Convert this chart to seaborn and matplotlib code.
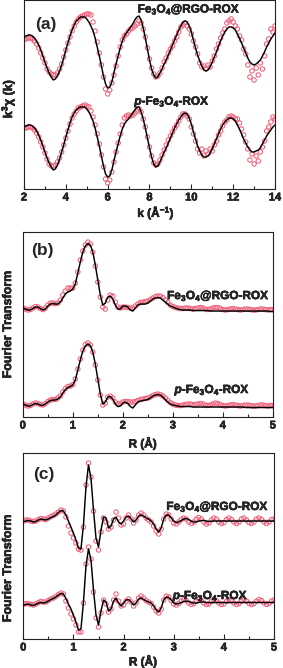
import numpy as np
import pandas as pd
import matplotlib
matplotlib.use('Agg')
import matplotlib.pyplot as plt
import matplotlib.patheffects as pe
import seaborn as sns
from matplotlib.ticker import MultipleLocator

sns.set_style('ticks')
plt.rcParams['font.family'] = ['Liberation Sans', 'DejaVu Sans']
plt.rcParams['font.weight'] = 'bold'
plt.rcParams['mathtext.fontset'] = 'custom'
plt.rcParams['mathtext.bfit'] = 'Liberation Sans:italic:bold'
plt.rcParams['mathtext.default'] = 'regular'

PINK = '#f0607a'
RGO = 'Fe$_3$O$_4$@RGO-ROX'
PFE = r'$\mathbfit{p}$-Fe$_3$O$_4$-ROX'
HEAVY = [pe.withStroke(linewidth=0.4, foreground='black')]

# ---- (a) k-space, k = 2 ... 14 step 0.1 (arbitrary units) ----
k = np.linspace(2, 14, 121)
rgo_fit_a = [152, 153, 154, 154, 153, 151, 148, 144, 139, 133,
             127, 121, 116, 112, 109, 110, 113, 118, 124, 131,
             139, 146, 153, 159, 164, 168, 170, 172, 172, 172,
             170, 167, 163, 158, 151, 142, 133, 123, 113, 105,
             101, 102, 107, 116, 125, 133, 141, 148, 153, 156,
             159, 162, 165, 169, 172, 173, 169, 161, 151, 140,
             129, 120, 114, 111, 112, 116, 120, 125, 129, 134,
             139, 144, 149, 154, 159, 163, 167, 168, 167, 163,
             157, 149, 141, 134, 128, 123, 119, 118, 119, 122,
             127, 132, 137, 143, 148, 153, 157, 160, 162, 162,
             161, 159, 155, 151, 146, 141, 136, 131, 127, 125,
             124, 125, 127, 129, 133, 137, 142, 146, 150, 153,
             156]
rgo_dat_a = [150, 150, 151, 151, 150, 148, 145, 141, 136, 131,
             126, 120, 117, 115, 114, 114, 116, 120, 125, 132,
             139, 146, 152, 158, 163, 167, 170, 172, 173, 174,
             175, 175, 174, 167, 158, 147, 136, 124, 112, 100,
             95, 99, 106, 114, 123, 133, 142, 149, 153, 155,
             158, 160, 161, 163, 165, 168, 166, 160, 152, 141,
             130, 121, 115, 112, 113, 116, 121, 127, 131, 136,
             140, 143, 148, 152, 157, 162, 164, 166, 163, 160,
             155, 148, 142, 135, 126, 122, 123, 120, 124, 122,
             128, 133, 140, 145, 151, 156, 160, 166, 168, 170,
             167, 163, 160, 153, 149, 140, 135, 124, 112, 118,
             109, 121, 114, 126, 120, 133, 145, 150, 160, 157,
             163]
pfe_fit_a = [62, 63, 64, 64, 63, 61, 58, 54, 49, 43,
             37, 31, 26, 22, 19, 20, 24, 30, 37, 44,
             52, 59, 66, 72, 76, 79, 81, 82, 82, 82,
             80, 77, 73, 68, 61, 52, 43, 33, 23, 15,
             12, 13, 19, 28, 37, 45, 53, 60, 65, 68,
             70, 73, 76, 79, 82, 82, 77, 70, 61, 51,
             41, 32, 25, 22, 23, 27, 32, 37, 41, 46,
             51, 56, 61, 65, 69, 72, 75, 76, 75, 71,
             65, 57, 50, 43, 38, 34, 32, 32, 33, 36,
             40, 45, 50, 55, 60, 64, 67, 69, 71, 71,
             70, 68, 64, 60, 55, 50, 46, 42, 39, 37,
             37, 38, 39, 41, 45, 49, 53, 56, 59, 62,
             64]
pfe_dat_a = [61, 61, 62, 62, 61, 59, 56, 52, 47, 42,
             36, 30, 25, 23, 23, 24, 27, 31, 37, 44,
             51, 58, 65, 71, 75, 78, 81, 82, 83, 84,
             83, 82, 78, 72, 64, 55, 45, 34, 22, 10,
             6, 9, 17, 27, 37, 46, 55, 64, 71, 73,
             74, 73, 74, 76, 78, 80, 77, 70, 62, 52,
             42, 33, 26, 24, 25, 29, 34, 39, 44, 49,
             53, 57, 61, 64, 68, 72, 75, 75, 73, 70,
             62, 55, 48, 40, 36, 40, 33, 38, 35, 40,
             38, 44, 48, 54, 58, 63, 67, 69, 72, 73,
             72, 70, 70, 66, 60, 54, 47, 40, 29, 35,
             25, 33, 28, 37, 42, 48, 58, 62, 67, 72,
             70]

# ---- (b) FT magnitude, R = 0 ... 5 step 0.05 ----
r = np.linspace(0, 5, 101)
rgo_fit_b = [109, 108, 107, 107, 108.5, 110, 110, 108.5, 107, 108,
             111, 113, 113.5, 113, 113, 115, 119, 123, 125, 126,
             128, 133, 144, 155, 165, 171, 173.5, 172, 165, 152,
             137, 122, 112, 114, 120, 121, 118, 112, 108, 108,
             111, 111, 110, 107, 106, 109, 112, 113, 113, 113,
             114, 116, 118, 119, 119.5, 119, 117, 115, 113, 111,
             110, 109, 108, 107.5, 107, 107, 107, 107, 106.5, 106.5,
             106.5, 106.5, 106.5, 106.5, 106.5, 106, 106, 106, 106, 106,
             106, 106, 106, 106, 106, 106, 106, 106, 106, 106,
             106, 106, 106, 106, 106, 106, 106, 106, 106, 105.5,
             105.5]
rgo_dat_b = [109, 108, 107, 107.5, 109, 110.5, 110, 108.5, 107.5, 109,
             112, 114, 114, 113.5, 114, 117, 122, 126, 129, 129,
             129, 134, 145, 157, 166, 172, 175, 173, 165, 151,
             135, 120, 110, 108, 117, 122, 121, 115, 110, 109,
             110, 110, 109.5, 109, 109, 111, 113, 114.5, 115, 115.5,
             116, 117.5, 119, 120.5, 121, 121, 119.5, 117, 114.5, 112,
             110.5, 109.5, 109, 108.5, 108.5, 109, 109, 108.5, 108, 108.5,
             109, 109.5, 109, 108, 107.5, 108, 109, 109.5, 109.5, 108.5,
             107.5, 107, 107.5, 108, 108.5, 108, 107.5, 107, 107.5, 108,
             108, 107.5, 107, 107, 107.5, 108, 108, 107.5, 107, 107.5,
             107.5]
pfe_fit_b = [13, 12, 11, 11, 12.5, 13.5, 13, 12, 11.5, 13,
             15, 16.5, 17, 17, 18, 20, 24, 27.5, 29.5, 30.5,
             32, 37, 47, 57, 66, 71, 73, 71.5, 65, 53,
             38, 23, 13, 15, 20, 20.5, 18, 13, 10.5, 11,
             14, 15, 13.5, 10.5, 9, 12, 15, 16, 16.5, 17,
             17.5, 19, 21, 22, 22.5, 22, 20, 17.5, 15, 13,
             12, 11.5, 11, 10.5, 10.5, 10.5, 10.5, 10.5, 10, 10,
             10, 10, 10, 10, 10, 10, 10, 10, 10, 10,
             10, 10, 10, 10, 10, 10, 10, 10, 10, 9.5,
             9.5, 9.5, 9.5, 9.5, 9.5, 9.5, 9.5, 9.5, 9.5, 9.5,
             9.5]
pfe_dat_b = [13, 12, 11, 11.5, 13, 14, 13.5, 12.5, 12, 13.5,
             15.5, 17, 17.5, 17.5, 19, 21, 25, 28.5, 30.5, 31,
             32.5, 38, 48, 58, 67, 72.5, 74, 72, 65, 52,
             37, 22, 12, 14, 20, 21, 19, 15, 13, 13.5,
             15, 15.5, 15.5, 15, 15, 15.5, 16.5, 17.5, 18, 18.5,
             19, 20, 21.5, 22.5, 23, 22.5, 21, 19, 16.5, 14.5,
             13, 12, 11.5, 11.5, 12, 12.5, 13, 13, 12.5, 12.5,
             13, 13.5, 13, 12, 11.5, 12, 13, 14, 13.5, 12.5,
             11.5, 11, 11.5, 12, 12.5, 12, 11.5, 11, 11.5, 12,
             12, 11.5, 11, 11, 11.5, 12, 12, 11.5, 11, 11.5,
             11.5]

# ---- (c) FT imaginary part, R = 0 ... 5 step 0.05 ----
rgo_fit_c = [117.5, 118, 118.5, 118, 117, 117.5, 119, 120, 119.5, 119,
             120, 121.5, 122.5, 124, 126.5, 128.5, 128, 124, 118, 112,
             106, 99, 91, 90, 114, 152, 174, 161, 129, 101,
             92, 109, 122, 121, 111, 113, 120, 122, 117, 115,
             118, 122, 123, 120, 117, 119, 123, 124, 123, 121,
             120, 118, 115, 110, 107, 111, 120, 124, 124, 121,
             118, 116.5, 117, 118.5, 120, 120.5, 119.5, 118, 117, 117,
             118, 118.5, 118.5, 118, 117.5, 118, 118, 118, 118, 118,
             118, 118, 118, 118, 118, 118, 118, 118, 118, 118,
             118, 118, 118, 118, 118, 118, 118, 118, 118, 118,
             118]
rgo_dat_c = [118, 119, 119, 118, 117.5, 118, 119.5, 120.5, 120, 119.5,
             121, 122.5, 123.5, 125, 127, 129, 128, 122, 113, 106,
             101, 96, 90, 89, 112, 154, 176, 162, 128, 98,
             89, 107, 121, 117, 110, 112, 119, 127, 121, 114,
             115, 121, 124, 120, 116, 119, 124, 126, 124, 121,
             119, 117, 113, 108, 105, 110, 120, 125, 124, 120,
             116, 115, 117, 119.5, 121, 120, 117, 115.5, 117, 120,
             121.5, 120, 117, 115, 116, 119, 121, 120, 117, 115.5,
             116.5, 119.5, 121, 119.5, 117, 115.5, 117, 120, 121, 119,
             116.5, 115.5, 117, 120, 121, 119.5, 117, 115.5, 117, 119.5,
             120]
pfe_fit_c = [34, 34.5, 35, 34, 33.5, 34.5, 36, 36.5, 36, 36.5,
             38, 39.5, 40.5, 42, 44, 45.5, 45, 40.5, 35, 30,
             24, 17, 9, 10, 37, 73, 90, 79, 49, 24,
             14, 28, 39, 37, 28, 30, 38, 41, 36, 33,
             36, 39, 39.5, 37, 34, 36, 40, 41, 39.5, 38,
             37, 36, 33, 29, 27, 31, 39, 42, 41.5, 39,
             36, 35, 35.5, 36.5, 37.5, 38, 37.5, 36.5, 36, 36,
             36.5, 37, 37, 36.5, 36.5, 36.5, 36.5, 36.5, 36.5, 36.5,
             36.5, 36.5, 36.5, 36.5, 36.5, 36.5, 36.5, 36.5, 36.5, 36.5,
             36.5, 36.5, 36.5, 36.5, 36.5, 36.5, 36.5, 36.5, 36.5, 36.5,
             36.5]
pfe_dat_c = [34.5, 35.5, 35.5, 34.5, 34, 35, 36.5, 37.5, 37, 37,
             38.5, 40, 41, 42.5, 44.5, 46, 45, 38, 31, 25,
             20, 14, 7, 7, 36, 75, 92, 80, 47, 21,
             12, 26, 39, 35, 27, 30, 39, 45, 38, 33,
             34, 38, 40, 37, 33, 36, 41, 43, 41, 38.5,
             37, 35.5, 32, 28, 26, 30, 39, 43, 42, 38.5,
             35, 34, 35.5, 38, 39.5, 38.5, 36, 34.5, 35.5, 38,
             39.5, 38.5, 36, 34.5, 35, 37.5, 39.5, 38.5, 36, 34.5,
             35, 37.5, 39.5, 38.5, 36, 34.5, 35.5, 38, 39.5, 38,
             35.5, 34.5, 35.5, 38, 39.5, 38.5, 36, 34.5, 35.5, 38,
             39]


def draw(ax, x, curves, xlim, ymax, major, minor, tag, xlabel, ylabel, xl_pos, yl_pos, tag_pos, name_pos):
    df = pd.concat([pd.DataFrame({'x': x, 'fit': f, 'data': d, 'sample': n})
                    for n, f, d in curves])
    sns.scatterplot(data=df, x='x', y='data', ax=ax, marker='o', s=10, color=PINK,
                    facecolor='none', edgecolor=PINK, linewidth=0.75, legend=False, zorder=2)
    sns.lineplot(data=df, x='x', y='fit', units='sample', estimator=None, sort=False,
                 color='black', linewidth=1.05, ax=ax, legend=False, zorder=3)
    ax.set_xlim(*xlim)
    ax.set_ylim(0, ymax)
    ax.set_yticks([])
    ax.xaxis.set_major_locator(MultipleLocator(major))
    ax.xaxis.set_minor_locator(MultipleLocator(minor))
    ax.tick_params(axis='x', which='both', direction='in', bottom=True, top=False,
                   width=0.8, labelsize=8, pad=2.5)
    ax.tick_params(axis='x', which='major', length=3.5)
    ax.tick_params(axis='x', which='minor', length=2.5)
    for sp in ax.spines.values():
        sp.set_linewidth(0.8)
        sp.set_color('#222222')
    ax.set_xlabel(xlabel, fontsize=8.5, fontweight='bold')
    ax.xaxis.set_label_coords(*xl_pos)
    ax.xaxis.label.set_va('center')
    ax.set_ylabel(ylabel, fontsize=9, fontweight='bold')
    ax.yaxis.set_label_coords(*yl_pos)
    ax.yaxis.label.set_va('center')
    ax.text(tag_pos[0], tag_pos[1], tag, transform=ax.transAxes, ha='left', va='center',
            fontsize=12.5, fontweight='bold')
    for (n, f, d), (px, py) in zip(curves, name_pos):
        ax.text(px, py, n, transform=ax.transAxes, ha='center', va='center',
                fontsize=8.5, fontweight='bold', path_effects=HEAVY)
    for lab in ax.get_xticklabels():
        lab.set_fontweight('bold')
        lab.set_path_effects(HEAVY)
    ax.xaxis.label.set_path_effects(HEAVY)
    ax.yaxis.label.set_path_effects(HEAVY)


fig = plt.figure(figsize=(2.83, 6.68), dpi=100)
ax_a = fig.add_axes([0.0848, 0.7171, 0.8869, 0.2822])
ax_b = fig.add_axes([0.0806, 0.3757, 0.8834, 0.2769])
ax_c = fig.add_axes([0.0823, 0.0434, 0.8859, 0.2784])

draw(ax_a, k, [(RGO, rgo_fit_a, rgo_dat_a), (PFE, pfe_fit_a, pfe_dat_a)],
     (2, 14), 188.5, 2, 1, '(a)', 'k (Å$^{-1}$)', 'k$^3$χ (k)',
     (0.526, -0.122), (-0.064, 0.48), (0.044, 0.87), [(0.657, 0.952), (0.59, 0.463)])
draw(ax_b, r, [(RGO, rgo_fit_b, rgo_dat_b), (PFE, pfe_fit_b, pfe_dat_b)],
     (0, 5), 185, 1, 0.5, '(b)', 'R (Å)', 'Fourier Transform',
     (0.479, -0.14), (-0.059, 0.5), (0.032, 0.903), [(0.782, 0.654), (0.758, 0.146)])
draw(ax_c, r, [(RGO, rgo_fit_c, rgo_dat_c), (PFE, pfe_fit_c, pfe_dat_c)],
     (0, 5), 186, 1, 0.5, '(c)', 'R (Å)', 'Fourier Transform',
     (0.477, -0.118), (-0.061, 0.38), (0.039, 0.882), [(0.775, 0.71), (0.747, 0.231)])

fig.savefig('out.png', dpi=100)
